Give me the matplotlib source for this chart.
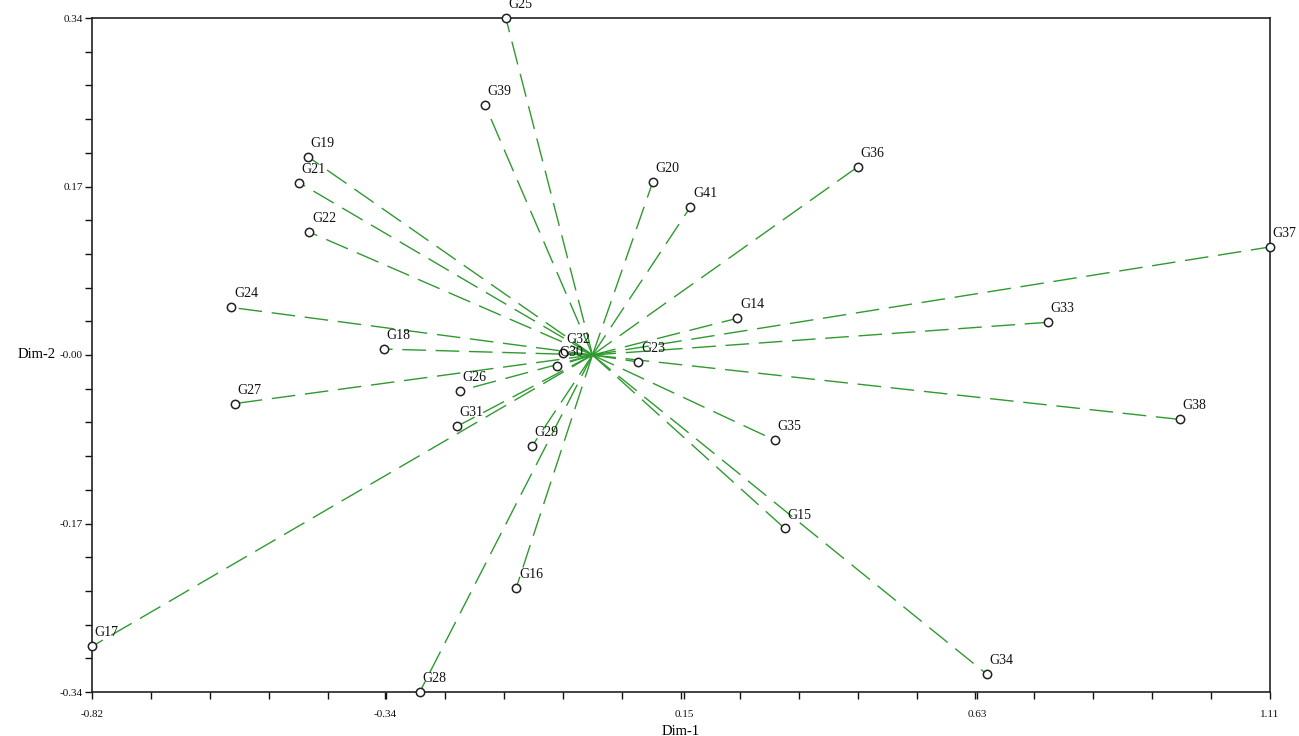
import matplotlib
matplotlib.use("Agg")
import matplotlib.pyplot as plt
import numpy as np
from matplotlib.ticker import FixedLocator, FixedFormatter

labels = ["G25", "G39", "G19", "G21", "G22", "G24", "G18", "G27", "G26", "G31",
          "G29", "G16", "G28", "G17", "G32", "G30", "G23", "G20", "G41", "G36",
          "G37", "G14", "G33", "G38", "G35", "G15", "G34"]
dim1 = [-0.142, -0.176, -0.466, -0.481, -0.464, -0.592, -0.342, -0.586, -0.217, -0.222,
        -0.099, -0.125, -0.283, -0.820, -0.048, -0.058, 0.075, 0.099, 0.160, 0.435,
        1.110, 0.237, 0.746, 0.962, 0.299, 0.315, 0.646]
dim2 = [0.340, 0.252, 0.200, 0.174, 0.124, 0.048, 0.006, -0.049, -0.036, -0.072,
        -0.092, -0.235, -0.340, -0.294, 0.002, -0.011, -0.007, 0.175, 0.149, 0.190,
        0.109, 0.037, 0.033, -0.065, -0.086, -0.175, -0.322]

xticks = [-0.82, -0.34, 0.15, 0.63, 1.11]
xticklabels = ["-0.82", "-0.34", "0.15", "0.63", "1.11"]
yticks = [-0.34, -0.17, 0.0, 0.17, 0.34]
yticklabels = ["-0.34", "-0.17", "-0.00", "0.17", "0.34"]

plt.rcParams['font.family'] = ['Liberation Serif', 'DejaVu Serif']

fig = plt.figure(figsize=(12.99, 7.36), dpi=100)
ax = fig.add_axes([92/1299, 1 - 692/736, (1270-92)/1299, (692-18)/736])

green = '#2f9a2f'
for x, y in zip(dim1, dim2):
    ax.plot([0, x], [0, y], color=green, lw=1.0, dashes=(17, 7), zorder=1)
ax.scatter(dim1, dim2, s=36, facecolor='white', edgecolor='#222222', linewidth=1.1,
           zorder=3, clip_on=False)
for lab, x, y in zip(labels, dim1, dim2):
    ax.annotate(lab, (x, y), xytext=(2, 5), textcoords='offset points',
                fontsize=10, color='#111111', ha='left', va='bottom',
                annotation_clip=False, zorder=4)

ax.set_xlim(-0.82, 1.11)
ax.set_ylim(-0.34, 0.34)
ax.xaxis.set_major_locator(FixedLocator(xticks))
ax.xaxis.set_major_formatter(FixedFormatter(xticklabels))
ax.yaxis.set_major_locator(FixedLocator(yticks))
ax.yaxis.set_major_formatter(FixedFormatter(yticklabels))
xminor = np.linspace(-0.82, 1.11, 21)
yminor = np.linspace(-0.34, 0.34, 21)
ax.xaxis.set_minor_locator(FixedLocator(xminor))
ax.yaxis.set_minor_locator(FixedLocator(yminor))
ax.tick_params(which='both', direction='out', length=5, width=1, labelsize=8, colors='#111111')
ax.tick_params(axis='x', which='major', pad=8)
ax.tick_params(axis='y', which='major', pad=1.5)
for s in ax.spines.values():
    s.set_linewidth(1.2)
    s.set_color('#222222')

ax.set_xlabel('Dim-1', fontsize=10.5, labelpad=4)
ax.set_ylabel('Dim-2', fontsize=10.5, rotation=0, ha='right', va='center')
ax.yaxis.set_label_coords(-0.031, 0.5)

fig.savefig('out.png', dpi=100)
